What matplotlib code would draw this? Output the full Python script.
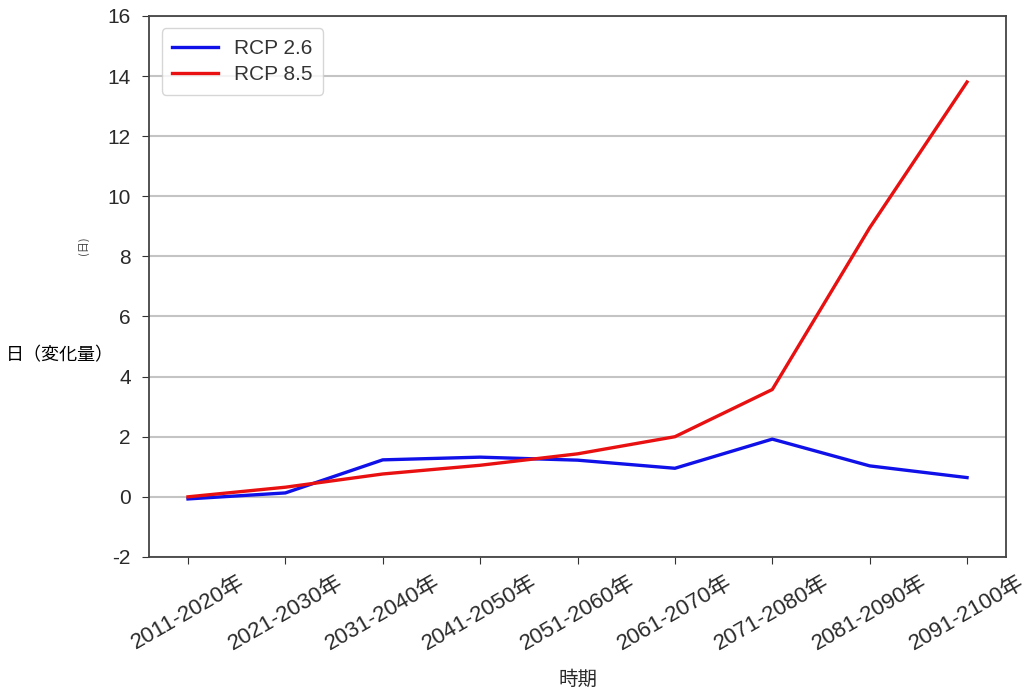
import matplotlib.pyplot as plt

plt.rcParams['font.family'] = ['Liberation Sans', 'Noto Sans CJK JP', 'DejaVu Sans']
plt.rcParams['axes.unicode_minus'] = False

# periods and change in days
periods = ["2011-2020年", "2021-2030年", "2031-2040年", "2041-2050年", "2051-2060年",
           "2061-2070年", "2071-2080年", "2081-2090年", "2091-2100年"]
rcp26 = [-0.07, 0.13, 1.23, 1.32, 1.22, 0.95, 1.92, 1.03, 0.64]
rcp85 = [0.0, 0.32, 0.76, 1.05, 1.43, 2.0, 3.57, 8.95, 13.8]

fig = plt.figure(figsize=(10.3, 6.91), dpi=100)
ax = fig.add_axes([0.1447, 0.194, 0.832, 0.783])

x = range(len(periods))
ax.plot(x, rcp26, color="#1010e8", lw=2.4, label="RCP 2.6")
ax.plot(x, rcp85, color="#e81010", lw=2.4, label="RCP 8.5")

ax.set_xlim(-0.4, 8.4)
ax.set_ylim(-2, 16)
ax.set_yticks(range(-2, 17, 2))
ax.set_xticks(list(x))
ax.set_xticklabels(periods, rotation=30, ha="center", fontsize=16, color="#2a2a2a")
ax.tick_params(axis="y", labelsize=15, colors="#2a2a2a", pad=8)
ax.tick_params(axis="x", pad=6)
ax.tick_params(axis="both", length=5, color="#333333")
ax.grid(axis="y", color="#c4c4c4", lw=1.5)
ax.set_axisbelow(True)
for s in ax.spines.values():
    s.set_color("#444444")
    s.set_linewidth(1.3)

ax.set_xlabel("時期", fontsize=14, color="#2a2a2a", labelpad=11)
fig.text(0.058, 0.486, "日（変化量）", fontsize=13, ha="center", va="center",
         family=['Noto Sans CJK JP', 'DejaVu Sans'])
fig.text(0.081, 0.645, "(日)", fontsize=8, rotation=90, ha="center", va="center",
         family=['Noto Sans CJK JP', 'DejaVu Sans'], color="#444444")

leg = ax.legend(loc="upper left", fontsize=15, frameon=True, handlelength=2.2,
                borderpad=0.5, labelspacing=0.35, borderaxespad=0.6)
leg.get_frame().set_edgecolor("#cccccc")
for t in leg.get_texts():
    t.set_color("#333333")

fig.savefig("out.png", dpi=100)
